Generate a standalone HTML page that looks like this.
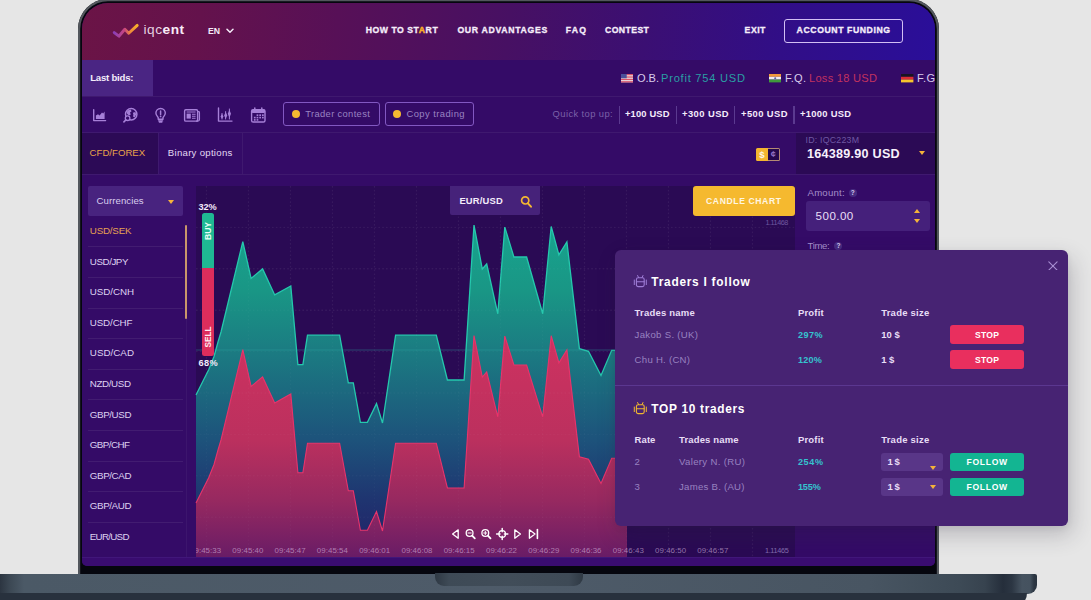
<!DOCTYPE html>
<html><head><meta charset="utf-8"><title>iqcent</title>
<style>
*{box-sizing:border-box;margin:0;padding:0}
html,body{width:1091px;height:600px;overflow:hidden}
body{background:#e6e6e6;font-family:"Liberation Sans",sans-serif;position:relative}
.abs{position:absolute}
.t{position:absolute;white-space:pre;line-height:14px;height:14px}
#frame{position:absolute;left:78px;top:-1px;width:861px;height:582px;background:#05060e;border-radius:30px 30px 0 0;box-shadow:inset 0 0 0 2.2px #53575d}
#screen{position:absolute;left:82px;top:2.6px;width:853px;height:563px;background:#340b67;border-radius:26px 26px 5px 5px;overflow:hidden}
#sc{position:absolute;left:-82px;top:-2.6px;width:1091px;height:600px}
#hdr{position:absolute;left:82px;top:0;width:853px;height:60px;background:linear-gradient(96deg,#6b1446 0%,#64124c 14%,#571057 30%,#471063 50%,#3b0f73 66%,#310e87 82%,#2a0e99 100%)}
.sep{position:absolute;left:82px;width:853px;height:1px;background:rgba(255,255,255,.06)}
.vsep{position:absolute;width:1px;background:rgba(255,255,255,.06)}
.btn-o{position:absolute;border:1.6px solid #8258c2;border-radius:3px}
.dot{position:absolute;width:8px;height:8px;border-radius:50%;background:#f6b931}
.qd{position:absolute;top:105.5px;width:1.2px;height:18px;background:#5b3a90}
.li{position:absolute;left:88px;width:95px;height:1px;background:rgba(255,255,255,.07)}
#base{position:absolute;left:-10px;top:573.6px;width:1046.8px;height:20px;background:linear-gradient(90deg,#252d39 0,#2c3541 10px,#3c4854 20px,#4b5966 34px,#4e5b69 500px,#485562 880px,#3d4a56 970px,#37434f 995px,#252e3b 1013px,#2c3643 1022px,#465360 1032px,#45525f 1040px,#2c3642 1044px,#2a3440 1047px);border-radius:0 2px 9px 0}
#base2{position:absolute;left:-10px;top:592.6px;width:1037px;height:14px;background:#28313d;border-radius:0 0 16px 0}
#notch{position:absolute;left:435px;top:572.5px;width:148px;height:13px;border-radius:0 0 9px 9px;background:linear-gradient(90deg,#2f3944 0,#3e4a56 14px,#414d59 50%,#3e4a56 134px,#2f3944 100%)}
#popup{position:absolute;left:615.2px;top:250.2px;width:452.6px;height:275.7px;background:#472373;border-radius:6px;box-shadow:4px 9px 22px rgba(45,40,60,.24),0 2px 6px rgba(40,30,60,.08)}
#pp{position:absolute;left:-615.2px;top:-250.2px;width:1091px;height:600px}
.stop{position:absolute;left:950px;width:74px;height:19px;border-radius:3px;background:#e92f5e}
.fol{position:absolute;left:950px;width:74px;height:18.5px;border-radius:3px;background:#13b592}
.sel{position:absolute;left:881px;width:62px;height:18.5px;border-radius:3px;background:#593688}
.car{position:absolute;width:0;height:0;border-left:3.3px solid transparent;border-right:3.3px solid transparent;border-top:4.6px solid #f6b43a}
.caru{position:absolute;width:0;height:0;border-left:3.2px solid transparent;border-right:3.2px solid transparent;border-bottom:4px solid #f6b43a}
.q{position:absolute;width:8px;height:8px;border-radius:50%;background:#472b80;color:#d9cdee;font-size:6.5px;font-weight:700;line-height:8.6px;text-align:center}
.tl{position:absolute;top:545.4px;width:44px;margin-left:-22px;text-align:center;font-size:7.9px;line-height:12px;color:rgba(222,190,225,.6);white-space:pre;letter-spacing:.05px}
</style></head>
<body>
<div id="frame"></div>
<div id="screen"><div id="sc">
  <div id="hdr"></div>
  <!-- logo -->
  <svg class="abs" style="left:111px;top:21px" width="30" height="18" viewBox="0 0 30 18">
    <defs><linearGradient id="lg" x1="0" y1="0" x2="1" y2="0"><stop offset="0" stop-color="#8b3fb6"/><stop offset=".45" stop-color="#c9457e"/><stop offset=".7" stop-color="#ee8a3a"/><stop offset="1" stop-color="#f8b12a"/></linearGradient></defs>
    <path d="M3.2 11.6 L7.9 15.2 L13.8 8.2 L17.7 12.2 L26.2 4.4" fill="none" stroke="url(#lg)" stroke-width="2.9" stroke-linecap="round" stroke-linejoin="round"/>
  </svg>
  <div class="t" style="left:143.4px;top:20.4px;height:20px;line-height:20px;font-size:13.7px;color:rgba(246,232,245,.9);letter-spacing:.55px">iqc<b style="letter-spacing:.5px;color:#f8ecf7">ent</b></div>
  <svg class="abs" style="left:225.5px;top:28px" width="8" height="6" viewBox="0 0 8 6"><path d="M1 1.2 L4 4.2 L7 1.2" fill="none" stroke="#f3e9f7" stroke-width="1.5" stroke-linecap="round" stroke-linejoin="round"/></svg>
  <div class="btn-o" style="left:784px;top:19px;width:118.5px;height:23.5px;border-color:#d2bff4;border-width:1.8px"></div>

  <!-- last bids -->
  <div class="abs" style="left:82px;top:60px;width:71px;height:36px;background:#4a2583"></div>
  <div class="sep" style="top:96px"></div>
  <div class="sep" style="top:132px"></div>
  <!-- flags -->
  <svg class="abs" style="left:621px;top:74.4px" width="12.4" height="8.4" viewBox="0 0 13 9" preserveAspectRatio="none"><rect width="13" height="9" fill="#e8d9dc"/><g fill="#d8526a"><rect y="0" width="13" height="1.3"/><rect y="2.6" width="13" height="1.3"/><rect y="5.2" width="13" height="1.3"/><rect y="7.7" width="13" height="1.3"/></g><rect width="6" height="4.6" fill="#4a4f9a"/></svg>
  <svg class="abs" style="left:769px;top:74.4px" width="12.4" height="8.4" viewBox="0 0 13 9" preserveAspectRatio="none"><rect width="13" height="3" fill="#f29a3a"/><rect y="3" width="13" height="3" fill="#f3edf0"/><rect y="6" width="13" height="3" fill="#3f9a3c"/><circle cx="6.5" cy="4.5" r="1.1" fill="#5a60a8"/></svg>
  <svg class="abs" style="left:901.4px;top:74.4px" width="12.4" height="8.4" viewBox="0 0 13 9" preserveAspectRatio="none"><rect width="13" height="3" fill="#1a1420"/><rect y="3" width="13" height="3" fill="#dd2c34"/><rect y="6" width="13" height="3" fill="#f7c52d"/></svg>

  <!-- toolbar -->
  <svg class="abs" style="left:92px;top:108px" width="16" height="16" viewBox="0 0 16 16">
<path d="M1.7 1.8 V12.6 H13.6" fill="none" stroke="#a680d8" stroke-width="1.4" stroke-linecap="round" stroke-linejoin="round"/>
<path d="M3.9 11 V7.6 L6 6.3 L7.6 7.4 L10 4.4 L11.2 5.6 L12.6 3.4 V11 Z" fill="#a680d8"/></svg>
<svg class="abs" style="left:122px;top:106px" width="18" height="18" viewBox="0 0 18 18">
<circle cx="9.2" cy="8.2" r="5.7" fill="none" stroke="#a680d8" stroke-width="1.5"/>
<path d="M6.2 4.2 L8.6 3.4 L9.6 5.2 L8 6.6 L8.8 8.4 L7 9.6 L5.2 8 L4.6 6 Z M10.8 6.8 L13.4 6 L14.2 8.6 L12.6 11.4 L11 10.6 L11.4 8.6 Z" fill="#a680d8"/>
<circle cx="5.6" cy="12.2" r="2.3" fill="#340b67" stroke="#a680d8" stroke-width="1.3"/>
<path d="M3.9 13.9 L1.9 15.9" stroke="#a680d8" stroke-width="1.6" stroke-linecap="round"/></svg>
<svg class="abs" style="left:153px;top:106px" width="16" height="18" viewBox="0 0 16 18">
<path d="M7.6 2.5 C4.6 2.5 2.9 4.7 2.9 7 C2.9 9.2 4.4 10.2 5.2 11.6 V13.2 H10 V11.6 C10.8 10.2 12.3 9.2 12.3 7 C12.3 4.7 10.6 2.5 7.6 2.5 Z" fill="none" stroke="#a680d8" stroke-width="1.4" stroke-linejoin="round"/>
<path d="M5.6 14.9 H9.6 M6.4 16.2 H8.8" stroke="#a680d8" stroke-width="1.2" stroke-linecap="round"/>
<path d="M7.6 5 V8.6" stroke="#a680d8" stroke-width="1.5" stroke-linecap="round"/><circle cx="7.6" cy="10.4" r=".85" fill="#a680d8"/></svg>
<svg class="abs" style="left:182px;top:107px" width="20" height="17" viewBox="0 0 20 17">
<rect x="2.6" y="2.7" width="13" height="11.4" rx="1.2" fill="none" stroke="#a680d8" stroke-width="1.4"/>
<path d="M15.6 4.6 H16.6 Q17.4 4.6 17.4 5.4 V12.6 Q17.4 14.1 15.9 14.1 H14" fill="none" stroke="#a680d8" stroke-width="1.3"/>
<rect x="4.6" y="6.6" width="4.2" height="5" fill="#a680d8"/>
<path d="M4.6 5 H13.6 M10 7.2 H13.6 M10 9.2 H13.6 M10 11.2 H13.6" stroke="#a680d8" stroke-width="1.1"/></svg>
<svg class="abs" style="left:216px;top:106px" width="18" height="18" viewBox="0 0 18 18">
<path d="M2.5 2 V15.1 H16" fill="none" stroke="#a680d8" stroke-width="1.4" stroke-linecap="round" stroke-linejoin="round"/>
<path d="M6 7 V13.4 M9.6 5.2 V13.4 M13.4 2.6 V13.4" stroke="#a680d8" stroke-width="1"/>
<path d="M6 8 L7.5 10.4 L6 12.8 L4.5 10.4 Z M9.7 6 L11.3 9.4 L9.7 12.8 L8.1 9.4 Z M13.4 3.8 L15 7.8 L13.4 11.8 L11.8 7.8 Z" fill="#a680d8"/></svg>
<svg class="abs" style="left:249px;top:106px" width="19" height="18" viewBox="0 0 19 18">
<rect x="2.6" y="3.6" width="13.4" height="12.4" rx="1.6" fill="none" stroke="#a680d8" stroke-width="1.4"/>
<rect x="2.6" y="3.6" width="13.4" height="3.4" rx="1.2" fill="#a680d8"/>
<path d="M5.8 1.9 V4.4 M12.8 1.9 V4.4" stroke="#a680d8" stroke-width="1.5" stroke-linecap="round"/>
<g fill="#a680d8"><rect x="7.6" y="8.4" width="1.7" height="1.6"/><rect x="10.3" y="8.4" width="1.7" height="1.6"/><rect x="13" y="8.4" width="1.7" height="1.6"/>
<rect x="4.9" y="10.8" width="1.7" height="1.6"/><rect x="7.6" y="10.8" width="1.7" height="1.6"/><rect x="10.3" y="10.8" width="1.7" height="1.6"/><rect x="13" y="10.8" width="1.7" height="1.6"/>
<rect x="4.9" y="13.1" width="1.7" height="1.6"/><rect x="7.6" y="13.1" width="1.7" height="1.6"/></g></svg>
  <div class="btn-o" style="left:283px;top:102px;width:96.5px;height:24px"></div>
  <div class="btn-o" style="left:385px;top:102px;width:89px;height:24px"></div>
  <div class="dot" style="left:291.8px;top:110px"></div>
  <div class="dot" style="left:393.4px;top:110px"></div>
  <div class="qd" style="left:618.8px"></div><div class="qd" style="left:675.5px"></div><div class="qd" style="left:734px"></div><div class="qd" style="left:793.4px"></div>

  <!-- tabs -->
  <div class="abs" style="left:82px;top:133px;width:76px;height:41px;background:#2c0a56"></div>
  <div class="vsep" style="left:158px;top:133px;height:41px"></div>
  <div class="vsep" style="left:242px;top:133px;height:41px"></div>
  <div class="sep" style="top:174px"></div>
  <div class="abs" style="left:795.5px;top:133px;width:140px;height:41px;background:#2b0a55"></div>
  <div class="car" style="left:919.4px;top:151.2px"></div>
  <!-- $ c toggle -->
  <div class="abs" style="left:767.6px;top:148.4px;width:12.4px;height:12.2px;border:1px solid #b48a74;border-left:0;border-radius:0 1.5px 1.5px 0;background:#25084d;color:#9474c6;font-size:9px;font-weight:700;line-height:11.6px;text-align:center">¢</div>
  <div class="abs" style="left:756px;top:148.4px;width:12px;height:12.2px;background:#f4b62f;border-radius:1.5px 0 0 1.5px;color:#fff8e8;font-size:9.6px;font-weight:700;line-height:13.8px;text-align:center">$</div>

  <!-- left list -->
  <div class="abs" style="left:87.7px;top:186.2px;width:95.6px;height:29.6px;background:#48237f;border-radius:2px"></div>
  <div class="car" style="left:167.7px;top:199.8px"></div>
  <div class="abs" style="left:185.2px;top:224.5px;width:1.4px;height:94px;background:#c9966a;border-radius:1px"></div>
  <div class="vsep" style="left:186px;top:318px;height:240px;background:rgba(255,255,255,.045)"></div>
  <div class="li" style="top:246.3px"></div>
<div class="li" style="top:276.9px"></div>
<div class="li" style="top:307.5px"></div>
<div class="li" style="top:338.1px"></div>
<div class="li" style="top:368.7px"></div>
<div class="li" style="top:399.3px"></div>
<div class="li" style="top:429.9px"></div>
<div class="li" style="top:460.5px"></div>
<div class="li" style="top:491.1px"></div>
<div class="li" style="top:521.7px"></div>

  <!-- chart -->
  <div class="abs" style="left:196px;top:186px;width:599px;height:371.5px;background:#2a0a54"></div>
  <svg class="abs" style="left:0;top:0" width="1091" height="600" viewBox="0 0 1091 600">
<defs>
<linearGradient id="tg" gradientUnits="userSpaceOnUse" x1="0" y1="225" x2="0" y2="557"><stop offset="0" stop-color="#18a48e"/><stop offset=".2" stop-color="#199685"/><stop offset=".376" stop-color="#1b7c82"/><stop offset=".65" stop-color="#1d527b"/><stop offset=".83" stop-color="#1f3470"/><stop offset="1" stop-color="#231f66"/></linearGradient>
<linearGradient id="rg" gradientUnits="userSpaceOnUse" x1="0" y1="333" x2="0" y2="557"><stop offset="0" stop-color="#cf3260"/><stop offset=".478" stop-color="#bb305e"/><stop offset=".745" stop-color="#972960"/><stop offset="1" stop-color="#691c66"/></linearGradient>
</defs>
<g stroke="rgba(255,255,255,.04)" stroke-width="1.4" stroke-dasharray="1.7 2.1" fill="none"><path d="M206.5 186 V557"/><path d="M248.5 186 V557"/><path d="M290.5 186 V557"/><path d="M332.5 186 V557"/><path d="M374.5 186 V557"/><path d="M416.5 186 V557"/><path d="M458.5 186 V557"/><path d="M500.5 186 V557"/><path d="M542.5 186 V557"/><path d="M584.5 186 V557"/><path d="M626.5 186 V557"/><path d="M668.5 186 V557"/><path d="M710.5 186 V557"/><path d="M752.5 186 V557"/><path d="M196 227.4 H795"/><path d="M196 268.8 H795"/><path d="M196 310.2 H795"/><path d="M196 351.6 H795"/><path d="M196 393.0 H795"/><path d="M196 434.4 H795"/><path d="M196 475.8 H795"/><path d="M196 517.2 H795"/></g>
<polygon points="196.0,395.0 203.0,381.0 208.7,369.7 214.0,356.5 218.0,342.0 221.0,332.0 242.8,241.7 251.1,278.4 262.6,268.9 274.7,294.9 290.8,286.0 297.9,364.7 302.9,364.7 307.5,335.2 339.6,335.2 348.3,382.8 353.3,382.8 360.4,422.3 367.4,422.3 376.5,403.6 382.5,423.0 395.6,335.2 436.3,335.2 447.4,380.0 464.1,380.0 474.0,225.1 482.3,269.0 486.7,264.0 497.8,313.8 504.8,227.1 513.9,257.0 526.6,257.0 542.7,313.8 551.2,226.5 558.9,254.8 566.9,241.9 579.4,348.7 588.5,351.3 601.0,375.5 611.7,350.3 627.0,350.3 627,557 196,557" fill="url(#tg)"/>
<polyline points="196.0,395.0 203.0,381.0 208.7,369.7 214.0,356.5 218.0,342.0 221.0,332.0 242.8,241.7 251.1,278.4 262.6,268.9 274.7,294.9 290.8,286.0 297.9,364.7 302.9,364.7 307.5,335.2 339.6,335.2 348.3,382.8 353.3,382.8 360.4,422.3 367.4,422.3 376.5,403.6 382.5,423.0 395.6,335.2 436.3,335.2 447.4,380.0 464.1,380.0 474.0,225.1 482.3,269.0 486.7,264.0 497.8,313.8 504.8,227.1 513.9,257.0 526.6,257.0 542.7,313.8 551.2,226.5 558.9,254.8 566.9,241.9 579.4,348.7 588.5,351.3 601.0,375.5 611.7,350.3 627.0,350.3" fill="none" stroke="#25c8ad" stroke-width="1.3" stroke-linejoin="miter"/>
<path d="M196 350 H795" stroke="rgba(45,175,165,.36)" stroke-width="1"/>
<polygon points="196.0,503.0 203.0,489.0 208.7,477.7 214.0,464.5 218.0,450.0 221.0,440.0 242.8,349.7 251.1,386.4 262.6,376.9 274.7,402.9 290.8,394.0 297.9,472.7 302.9,472.7 307.5,443.2 339.6,443.2 348.3,490.8 353.3,490.8 360.4,530.3 367.4,530.3 376.5,511.6 382.5,531.0 395.6,443.2 436.3,443.2 447.4,488.0 464.1,488.0 474.0,335.5 482.3,377.0 486.7,372.0 497.8,416.8 504.8,336.1 513.9,365.0 526.6,365.0 542.7,416.8 551.2,335.7 558.9,362.8 566.9,349.9 579.4,456.7 588.5,459.3 601.0,483.5 611.7,458.3 627.0,458.3 627,557 196,557" fill="url(#rg)"/>
<polyline points="196.0,503.0 203.0,489.0 208.7,477.7 214.0,464.5 218.0,450.0 221.0,440.0 242.8,349.7 251.1,386.4 262.6,376.9 274.7,402.9 290.8,394.0 297.9,472.7 302.9,472.7 307.5,443.2 339.6,443.2 348.3,490.8 353.3,490.8 360.4,530.3 367.4,530.3 376.5,511.6 382.5,531.0 395.6,443.2 436.3,443.2 447.4,488.0 464.1,488.0 474.0,335.5 482.3,377.0 486.7,372.0 497.8,416.8 504.8,336.1 513.9,365.0 526.6,365.0 542.7,416.8 551.2,335.7 558.9,362.8 566.9,349.9 579.4,456.7 588.5,459.3 601.0,483.5 611.7,458.3 627.0,458.3" fill="none" stroke="#e8346b" stroke-width="1.1" stroke-linejoin="miter"/>
<g stroke="rgba(255,255,255,.026)" stroke-width="1.4" stroke-dasharray="1.7 2.1" fill="none"><path d="M206.5 186 V557"/><path d="M248.5 186 V557"/><path d="M290.5 186 V557"/><path d="M332.5 186 V557"/><path d="M374.5 186 V557"/><path d="M416.5 186 V557"/><path d="M458.5 186 V557"/><path d="M500.5 186 V557"/><path d="M542.5 186 V557"/><path d="M584.5 186 V557"/><path d="M626.5 186 V557"/><path d="M668.5 186 V557"/><path d="M710.5 186 V557"/><path d="M752.5 186 V557"/><path d="M196 227.4 H795"/><path d="M196 268.8 H795"/><path d="M196 310.2 H795"/><path d="M196 351.6 H795"/><path d="M196 393.0 H795"/><path d="M196 434.4 H795"/><path d="M196 475.8 H795"/><path d="M196 517.2 H795"/></g>

</svg>
  <div class="abs" style="left:450.4px;top:186px;width:89.2px;height:29.3px;background:#46227a;border-radius:0 0 2px 2px"></div>
  <svg class="abs" style="left:519.5px;top:194.6px" width="13" height="14" viewBox="0 0 13 14"><circle cx="5.2" cy="5.4" r="3.6" fill="none" stroke="#f4b731" stroke-width="1.7"/><path d="M7.9 8.3 L11 11.7" stroke="#f4b731" stroke-width="2" stroke-linecap="round"/></svg>
  <div class="abs" style="left:693px;top:186.3px;width:101.6px;height:30px;background:#f5b92f;border-radius:3px"></div>
  <!-- buy/sell -->
  <div class="abs" style="left:202px;top:212.8px;width:12px;height:55.4px;background:#1fb893;border-radius:2.5px 2.5px 0 0"></div>
  <div class="abs" style="left:202px;top:268px;width:12px;height:88.4px;background:#dd2d5c;border-radius:0 0 2.5px 2.5px"></div>
  <div class="abs" style="left:188px;top:224px;width:40px;height:14px;line-height:14px;text-align:center;transform:rotate(-90deg) scaleX(.93);font-size:9.2px;font-weight:700;color:#eafff8;letter-spacing:0">BUY</div>
  <div class="abs" style="left:188px;top:329.7px;width:40px;height:14px;line-height:14px;text-align:center;transform:rotate(-90deg) scaleX(.9);font-size:9.2px;font-weight:700;color:#ffeaf0;letter-spacing:0">SELL</div>
  <div class="abs" style="left:196px;top:540px;width:599px;height:18px;overflow:hidden"><div class="abs" style="left:-196px;top:-540px;width:1091px;height:600px">
<div class="tl" style="left:205.6px">09:45:33</div>
<div class="tl" style="left:247.9px">09:45:40</div>
<div class="tl" style="left:290.1px">09:45:47</div>
<div class="tl" style="left:332.4px">09:45:54</div>
<div class="tl" style="left:374.7px">09:46:01</div>
<div class="tl" style="left:417.0px">09:46:08</div>
<div class="tl" style="left:459.2px">09:46:15</div>
<div class="tl" style="left:501.5px">09:46:22</div>
<div class="tl" style="left:543.8px">09:46:29</div>
<div class="tl" style="left:586.0px">09:46:36</div>
<div class="tl" style="left:628.3px">09:46:43</div>
<div class="tl" style="left:670.6px">09:46:50</div>
<div class="tl" style="left:712.8px">09:46:57</div>
</div></div>
  <svg class="abs" style="left:445px;top:525px" width="100" height="18" viewBox="445 525 100 18" fill="none" stroke="#ffffff" stroke-width="1.3" stroke-linejoin="round" stroke-linecap="round"><path d="M458.2 529.8 L452.6 534 L458.2 538.2 Z"/><circle cx="469.6" cy="533" r="3.4"/><path d="M472.2 535.6 L474.8 538.4" stroke-width="1.8"/><path d="M468 533 H471.2" stroke-width="1"/><circle cx="485.3" cy="533" r="3.4"/><path d="M487.9 535.6 L490.5 538.4" stroke-width="1.8"/><path d="M483.7 533 H486.9 M485.3 531.4 V534.6" stroke-width="1"/><circle cx="502.2" cy="534" r="3.3"/><path d="M502.2 528.4 V531.8 M502.2 536.2 V539.6 M496.6 534 H500 M504.4 534 H507.8" stroke-width="1.5"/><path d="M514.8 529.8 L520.4 534 L514.8 538.2 Z"/><path d="M529.4 529.8 L535 534 L529.4 538.2 Z"/><path d="M537.4 529.6 V538.4" stroke-width="1.6"/></svg>

  <!-- right panel -->
  <div class="q" style="left:848.8px;top:189px">?</div>
  <div class="abs" style="left:806.2px;top:201.3px;width:123.5px;height:29.4px;background:#45207b;border-radius:3px"></div>
  <div class="caru" style="left:913.8px;top:209.4px"></div>
  <div class="car" style="left:913.8px;top:219.2px;border-left-width:3.2px;border-right-width:3.2px;border-top-width:4px"></div>
  <div class="q" style="left:834.4px;top:242.2px">?</div>
  <div class="abs" style="left:82px;top:557.5px;width:853px;height:9px;background:#390c70"></div><div class="sep" style="top:557px;background:#41167a"></div>
<div class="t" style="left:207.9px;top:23.6px;font-size:8.7px;font-weight:700;color:#f3e9f7;letter-spacing:0.022px;">EN</div>
<div class="t" style="left:365.7px;top:23.4px;font-size:8.7px;font-weight:700;color:#f6eefa;letter-spacing:0.520px;-webkit-text-stroke:.3px #f6eefa;">HOW TO ST<span style="color:#f7ae2a;-webkit-text-stroke:.5px #f7ae2a">A</span>RT</div>
<div class="t" style="left:457.4px;top:23.4px;font-size:8.7px;font-weight:700;color:#f6eefa;letter-spacing:0.683px;-webkit-text-stroke:.3px #f6eefa;">OUR ADVANTAGES</div>
<div class="t" style="left:565.7px;top:23.4px;font-size:8.7px;font-weight:700;color:#f6eefa;letter-spacing:1.220px;-webkit-text-stroke:.3px #f6eefa;">FAQ</div>
<div class="t" style="left:605.0px;top:23.4px;font-size:8.7px;font-weight:700;color:#f6eefa;letter-spacing:0.397px;-webkit-text-stroke:.3px #f6eefa;">CONTEST</div>
<div class="t" style="left:744.6px;top:23.4px;font-size:8.7px;font-weight:700;color:#f6eefa;letter-spacing:0.496px;-webkit-text-stroke:.3px #f6eefa;">EXIT</div>
<div class="t" style="left:796.6px;top:23.4px;font-size:8.7px;font-weight:700;color:#f6eefa;letter-spacing:0.570px;-webkit-text-stroke:.3px #f6eefa;">ACCOUNT FUNDING</div>
<div class="t" style="left:90.2px;top:70.8px;font-size:9.6px;font-weight:700;color:#f4ecfb;letter-spacing:-0.224px;">Last bids:</div>
<div class="t" style="left:637.0px;top:71.3px;font-size:11.1px;font-weight:400;color:#d9cdec;letter-spacing:-0.068px;">O.B.</div>
<div class="t" style="left:661.0px;top:71.3px;font-size:11.1px;font-weight:400;color:#2a9ea4;letter-spacing:0.769px;">Profit 754 USD</div>
<div class="t" style="left:785.0px;top:71.3px;font-size:11.1px;font-weight:400;color:#d9cdec;letter-spacing:0.219px;">F.Q.</div>
<div class="t" style="left:809.0px;top:71.3px;font-size:11.1px;font-weight:400;color:#c2325f;letter-spacing:0.263px;">Loss 18 USD</div>
<div class="t" style="left:917.0px;top:71.3px;font-size:11.1px;font-weight:400;color:#d9cdec;letter-spacing:0.385px;">F.G.</div>
<div class="t" style="left:305.3px;top:107.0px;font-size:9.4px;font-weight:400;color:#9a84c2;letter-spacing:0.338px;">Trader contest</div>
<div class="t" style="left:406.5px;top:107.0px;font-size:9.4px;font-weight:400;color:#9a84c2;letter-spacing:0.440px;">Copy trading</div>
<div class="t" style="left:552.6px;top:107.0px;font-size:9.4px;font-weight:400;color:#7b61a8;letter-spacing:0.404px;">Quick top up:</div>
<div class="t" style="left:625.0px;top:107.0px;font-size:9.4px;font-weight:700;color:#f4ecfb;letter-spacing:0.141px;">+100 USD</div>
<div class="t" style="left:682.0px;top:107.0px;font-size:9.4px;font-weight:700;color:#f4ecfb;letter-spacing:0.441px;">+300 USD</div>
<div class="t" style="left:741.0px;top:107.0px;font-size:9.4px;font-weight:700;color:#f4ecfb;letter-spacing:0.426px;">+500 USD</div>
<div class="t" style="left:800.0px;top:107.0px;font-size:9.4px;font-weight:700;color:#f4ecfb;letter-spacing:0.283px;">+1000 USD</div>
<div class="t" style="left:89.6px;top:146.4px;font-size:9.6px;font-weight:400;color:#e9a24a;letter-spacing:0.020px;">CFD/FOREX</div>
<div class="t" style="left:167.8px;top:146.4px;font-size:9.6px;font-weight:400;color:#e3d8f3;letter-spacing:0.285px;">Binary options</div>
<div class="t" style="left:805.6px;top:132.7px;font-size:8.8px;font-weight:400;color:#6f58a3;letter-spacing:0.206px;">ID: IQC223M</div>
<div class="t" style="left:807.0px;top:146.9px;font-size:12.6px;font-weight:700;color:#f7f1fc;letter-spacing:0.256px;">164389.90 USD</div>
<div class="t" style="left:96.6px;top:194.3px;font-size:9.6px;font-weight:400;color:#d9cdee;letter-spacing:0.068px;">Currencies</div>
<div class="t" style="left:89.8px;top:224.0px;font-size:9.8px;font-weight:400;color:#e6a052;letter-spacing:-0.219px;">USD/SEK</div>
<div class="t" style="left:89.8px;top:254.6px;font-size:9.8px;font-weight:400;color:#ddd1f0;letter-spacing:-0.446px;">USD/JPY</div>
<div class="t" style="left:89.8px;top:285.2px;font-size:9.8px;font-weight:400;color:#ddd1f0;letter-spacing:-0.073px;">USD/CNH</div>
<div class="t" style="left:89.8px;top:315.8px;font-size:9.8px;font-weight:400;color:#ddd1f0;letter-spacing:-0.141px;">USD/CHF</div>
<div class="t" style="left:89.8px;top:346.4px;font-size:9.8px;font-weight:400;color:#ddd1f0;letter-spacing:0.018px;">USD/CAD</div>
<div class="t" style="left:89.8px;top:377.0px;font-size:9.8px;font-weight:400;color:#ddd1f0;letter-spacing:-0.391px;">NZD/USD</div>
<div class="t" style="left:89.8px;top:407.6px;font-size:9.8px;font-weight:400;color:#ddd1f0;letter-spacing:-0.402px;">GBP/USD</div>
<div class="t" style="left:89.8px;top:438.2px;font-size:9.8px;font-weight:400;color:#ddd1f0;letter-spacing:-0.558px;">GBP/CHF</div>
<div class="t" style="left:89.8px;top:468.8px;font-size:9.8px;font-weight:400;color:#ddd1f0;letter-spacing:-0.402px;">GBP/CAD</div>
<div class="t" style="left:89.8px;top:499.4px;font-size:9.8px;font-weight:400;color:#ddd1f0;letter-spacing:-0.402px;">GBP/AUD</div>
<div class="t" style="left:89.8px;top:530.0px;font-size:9.8px;font-weight:400;color:#ddd1f0;letter-spacing:-0.732px;">EUR/USD</div>
<div class="t" style="left:198.6px;top:199.8px;font-size:9.2px;font-weight:700;color:#f4ecfb;letter-spacing:-0.095px;">32%</div>
<div class="t" style="left:198.6px;top:356.2px;font-size:9.2px;font-weight:700;color:#f4ecfb;letter-spacing:0.305px;">68%</div>
<div class="t" style="left:459.4px;top:194.2px;font-size:9.4px;font-weight:700;color:#f4ecfb;letter-spacing:0.183px;">EUR/USD</div>
<div class="t" style="left:706.0px;top:194.4px;font-size:8.6px;font-weight:700;color:#fff6e2;letter-spacing:0.611px;">CANDLE CHART</div>
<div class="t" style="left:765.4px;top:215.5px;font-size:7.3px;font-weight:400;color:#6e579f;letter-spacing:-0.474px;">1.11468</div>
<div class="t" style="left:765.0px;top:544.4px;font-size:7.3px;font-weight:400;color:#826aae;letter-spacing:-0.357px;">1.11465</div>
<div class="t" style="left:807.5px;top:185.8px;font-size:9.6px;font-weight:400;color:#a58fca;letter-spacing:0.228px;">Amount:</div>
<div class="t" style="left:815.6px;top:208.8px;font-size:11.6px;font-weight:400;color:#e9dff7;letter-spacing:0.446px;">500.00</div>
<div class="t" style="left:807.5px;top:239.0px;font-size:9.6px;font-weight:400;color:#a58fca;letter-spacing:-0.335px;">Time:</div>
</div></div>

<div id="base"></div><div id="base2"></div><div id="notch"></div>

<div id="popup"><div id="pp">
  <svg class="abs" style="left:1047.8px;top:260.5px" width="9.9" height="9.9" viewBox="0 0 11 11"><path d="M.9 .9 L10.1 10.1 M10.1 .9 L.9 10.1" stroke="#a88ed2" stroke-width="1.25" stroke-linecap="round"/></svg>
  <div class="abs" style="left:615px;top:385.4px;width:453px;height:1px;background:#5b3790"></div>
  <svg class="abs" style="left:632.8px;top:274.2px" width="15" height="15" viewBox="-1 -1 15 15" fill="none" stroke="#9e7cd6" stroke-width="1.1" stroke-linecap="round" stroke-linejoin="round">
<rect x="2.4" y="2.8" width="7.8" height="8.8" rx="1.8"/><path d="M2.4 6.8 H10.2"/><path d="M3.6 .5 L4.6 2.6 M9 .5 L8 2.6" stroke-width="1"/><path d="M.3 5 V9.6 M12.3 5 V9.6" stroke-width="1"/></svg> <svg class="abs" style="left:632.8px;top:400.8px" width="15" height="15" viewBox="-1 -1 15 15" fill="none" stroke="#f0b62f" stroke-width="1.1" stroke-linecap="round" stroke-linejoin="round">
<rect x="2.4" y="2.8" width="7.8" height="8.8" rx="1.8"/><path d="M2.4 6.8 H10.2"/><path d="M3.6 .5 L4.6 2.6 M9 .5 L8 2.6" stroke-width="1"/><path d="M.3 5 V9.6 M12.3 5 V9.6" stroke-width="1"/></svg>
  <div class="stop" style="top:325.2px"></div>
  <div class="stop" style="top:350.2px"></div>
  <div class="sel" style="top:452.6px"></div><div class="fol" style="top:452.6px"></div>
  <div class="sel" style="top:477.8px"></div><div class="fol" style="top:477.8px"></div>
  <div class="car" style="left:930px;top:466.2px"></div>
  <div class="car" style="left:930px;top:485.2px"></div>
<div class="t" style="left:651.3px;top:274.7px;font-size:11.9px;font-weight:700;color:#ffffff;letter-spacing:0.745px;">Traders I follow</div>
<div class="t" style="left:634.6px;top:306.0px;font-size:9.5px;font-weight:700;color:#e8def6;letter-spacing:0.201px;">Trades name</div>
<div class="t" style="left:797.9px;top:306.0px;font-size:9.5px;font-weight:700;color:#e8def6;letter-spacing:0.198px;">Profit</div>
<div class="t" style="left:881.2px;top:306.0px;font-size:9.5px;font-weight:700;color:#e8def6;letter-spacing:0.227px;">Trade size</div>
<div class="t" style="left:634.6px;top:328.0px;font-size:9.6px;font-weight:400;color:#9882c0;letter-spacing:0.307px;">Jakob S. (UK)</div>
<div class="t" style="left:797.9px;top:328.0px;font-size:9.1px;font-weight:700;color:#35c3cf;letter-spacing:0.511px;">297%</div>
<div class="t" style="left:881.2px;top:328.0px;font-size:9.5px;font-weight:700;color:#e8def6;letter-spacing:0.000px;">10 $</div>
<div class="t" style="left:975.0px;top:327.8px;font-size:8.6px;font-weight:700;color:#fff;letter-spacing:0.250px;">STOP</div>
<div class="t" style="left:634.6px;top:353.0px;font-size:9.6px;font-weight:400;color:#9882c0;letter-spacing:0.262px;">Chu H. (CN)</div>
<div class="t" style="left:797.9px;top:353.0px;font-size:9.1px;font-weight:700;color:#35c3cf;letter-spacing:0.211px;">120%</div>
<div class="t" style="left:881.2px;top:353.0px;font-size:9.5px;font-weight:700;color:#e8def6;letter-spacing:-0.109px;">1 $</div>
<div class="t" style="left:975.0px;top:352.8px;font-size:8.6px;font-weight:700;color:#fff;letter-spacing:0.250px;">STOP</div>
<div class="t" style="left:651.3px;top:401.8px;font-size:11.9px;font-weight:700;color:#ffffff;letter-spacing:0.694px;">TOP 10 traders</div>
<div class="t" style="left:634.6px;top:433.0px;font-size:9.5px;font-weight:700;color:#e8def6;letter-spacing:0.069px;">Rate</div>
<div class="t" style="left:679.0px;top:433.0px;font-size:9.5px;font-weight:700;color:#e8def6;letter-spacing:0.151px;">Trades name</div>
<div class="t" style="left:797.9px;top:433.0px;font-size:9.5px;font-weight:700;color:#e8def6;letter-spacing:0.198px;">Profit</div>
<div class="t" style="left:881.2px;top:433.0px;font-size:9.5px;font-weight:700;color:#e8def6;letter-spacing:0.227px;">Trade size</div>
<div class="t" style="left:634.6px;top:455.2px;font-size:9.6px;font-weight:400;color:#9882c0;letter-spacing:0.000px;">2</div>
<div class="t" style="left:679.0px;top:455.2px;font-size:9.6px;font-weight:400;color:#9882c0;letter-spacing:0.334px;">Valery N. (RU)</div>
<div class="t" style="left:797.9px;top:455.2px;font-size:9.1px;font-weight:700;color:#35c3cf;letter-spacing:0.611px;">254%</div>
<div class="t" style="left:887.6px;top:455.0px;font-size:9.5px;font-weight:700;color:#e8def6;letter-spacing:-0.559px;">1 $</div>
<div class="t" style="left:966.5px;top:454.8px;font-size:8.6px;font-weight:700;color:#fff;letter-spacing:0.693px;">FOLLOW</div>
<div class="t" style="left:634.6px;top:480.2px;font-size:9.6px;font-weight:400;color:#9882c0;letter-spacing:0.000px;">3</div>
<div class="t" style="left:679.0px;top:480.2px;font-size:9.6px;font-weight:400;color:#9882c0;letter-spacing:0.260px;">James B. (AU)</div>
<div class="t" style="left:797.9px;top:480.2px;font-size:9.1px;font-weight:700;color:#35c3cf;letter-spacing:-0.122px;">155%</div>
<div class="t" style="left:887.6px;top:480.0px;font-size:9.5px;font-weight:700;color:#e8def6;letter-spacing:-0.559px;">1 $</div>
<div class="t" style="left:966.5px;top:479.8px;font-size:8.6px;font-weight:700;color:#fff;letter-spacing:0.693px;">FOLLOW</div>
</div></div>
</body></html>
